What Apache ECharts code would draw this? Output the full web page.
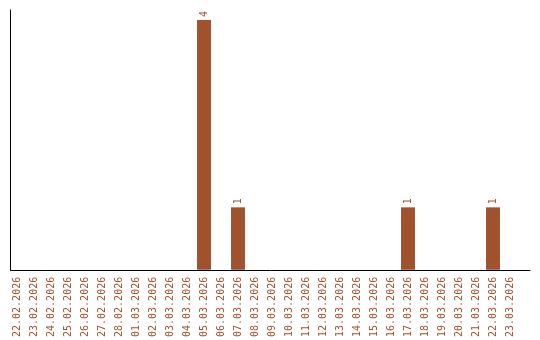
<!DOCTYPE html>
<html><head><meta charset="utf-8">
<script src="https://cdn.jsdelivr.net/npm/echarts@6/dist/echarts.min.js"></script>
<style>html,body{margin:0;padding:0;background:#fff}#c{width:540px;height:340px}</style>
</head><body><div id="c"></div>
<script>
const categories = ["22.02.2026","23.02.2026","24.02.2026","25.02.2026","26.02.2026","27.02.2026","28.02.2026","01.03.2026","02.03.2026","03.03.2026","04.03.2026","05.03.2026","06.03.2026","07.03.2026","08.03.2026","09.03.2026","10.03.2026","11.03.2026","12.03.2026","13.03.2026","14.03.2026","15.03.2026","16.03.2026","17.03.2026","18.03.2026","19.03.2026","20.03.2026","21.03.2026","22.03.2026","23.03.2026"];
const values = [0,0,0,0,0,0,0,0,0,0,0,4,0,1,0,0,0,0,0,0,0,0,0,1,0,0,0,0,1,0];
const color = '#A0522D';
const chart = echarts.init(document.getElementById('c'));
chart.setOption({
  animation: false,
  grid: [
    {left: 8.5, right: 21.5, top: 10, bottom: 70, containLabel: false},
    {left: 10.5, right: 10, top: 10, bottom: 70, containLabel: false}
  ],
  xAxis: [{
    type: 'category', data: categories, gridIndex: 0,
    axisLine: {show: false},
    axisTick: {show: false},
    axisLabel: {rotate: 90, interval: 0, color: color, fontFamily: 'DejaVu Sans Mono', fontSize: 10, margin: 7}
  }, {
    type: 'value', gridIndex: 1, min: 0, max: 1,
    axisLine: {show: true, lineStyle: {color: '#000', width: 1}},
    axisTick: {show: false}, axisLabel: {show: false}, splitLine: {show: false}
  }],
  yAxis: [{
    type: 'value', gridIndex: 0, min: 0, max: 4.16,
    axisLine: {show: false},
    axisTick: {show: false}, axisLabel: {show: false}, splitLine: {show: false}
  }, {
    type: 'value', gridIndex: 1, min: 0, max: 1,
    axisLine: {show: true, lineStyle: {color: '#000', width: 1}},
    axisTick: {show: false}, axisLabel: {show: false}, splitLine: {show: false}
  }],
  series: [{
    type: 'bar', data: values, barCategoryGap: '18%', xAxisIndex: 0, yAxisIndex: 0,
    itemStyle: {color: color},
    label: {
      show: true, position: 'top', rotate: 90, align: 'left', verticalAlign: 'middle', distance: 3,
      color: color, fontFamily: 'DejaVu Sans Mono', fontSize: 10,
      formatter: p => p.value > 0 ? String(p.value) : ''
    }
  }]
});
</script></body></html>
